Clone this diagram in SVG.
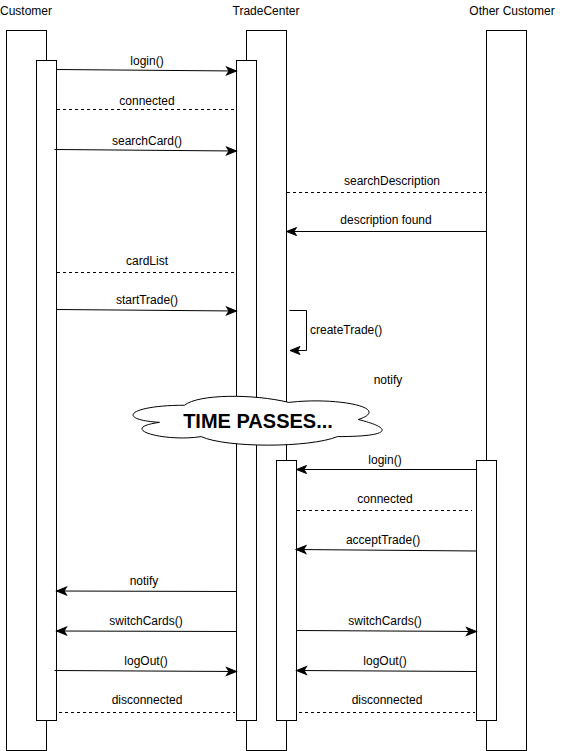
<svg xmlns="http://www.w3.org/2000/svg" width="567" height="751" viewBox="0 0 567 751">
<defs>
<style>
.box{fill:#fff;stroke:#000;stroke-width:1}
.msg{fill:none;stroke:#000;stroke-width:1}
.arr{marker-end:url(#ah)}
.dash{stroke-dasharray:3 3}
text{font-family:"Liberation Sans",Arial,Helvetica,sans-serif;font-size:12px;fill:#000}
.c{text-anchor:middle}
.big{font-size:20px;font-weight:bold}
</style>
<marker id="ah" markerUnits="userSpaceOnUse" markerWidth="10" markerHeight="8" refX="10" refY="4" orient="auto" overflow="visible">
<path d="M0,0 L10,4 L0,8 L2.5,4 Z" fill="#000" stroke="#000" stroke-width="1"/>
</marker>
</defs>
<rect width="567" height="751" fill="#fff"/>
<g id="customer">
<text class="c" x="26" y="15">Customer</text>
<rect class="box" x="6.5" y="30.5" width="40" height="720"/>
<rect class="box" x="36.5" y="60.5" width="20" height="660"/>
</g>
<g id="tradecenter">
<text class="c" x="266" y="15">TradeCenter</text>
<rect class="box" x="246.5" y="30.5" width="40" height="720"/>
<rect class="box" x="236.5" y="60.5" width="20" height="660"/>
</g>
<g id="othercustomer">
<text class="c" x="512" y="15">Other Customer</text>
<rect class="box" x="486.5" y="30.5" width="40" height="720"/>
<rect class="box" x="476.5" y="460.5" width="20" height="260"/>
</g>
<g id="timepasses">
<path class="box" d="M184.5,405.25 C128.9,405.25 115,419.5 159.48,422.35 C115,428.62 165.04,442.3 201.18,436.6 C226.2,448 309.6,448 337.4,436.6 C393,436.6 393,428.05 358.25,419.5 C393,408.1 337.4,396.7 288.75,402.4 C254,393.85 198.4,393.85 184.5,405.25 Z"/>
<text class="c big" x="258" y="428">TIME PASSES...</text>
</g>
<g id="tradecenter-activation2">
<rect class="box" x="276.5" y="460.5" width="20" height="260"/>
</g>
<g id="connectors">
<line class="msg arr" x1="56.5" y1="69.5" x2="236.5" y2="71"/>
<line class="msg dash" x1="57" y1="109.5" x2="235" y2="109.5"/>
<line class="msg arr" x1="54.5" y1="149.5" x2="236.5" y2="151"/>
<line class="msg dash" x1="287" y1="192.5" x2="486" y2="192.5"/>
<line class="msg arr" x1="486.5" y1="231.5" x2="286.5" y2="231.5"/>
<line class="msg dash" x1="57" y1="272.5" x2="235" y2="272.5"/>
<line class="msg arr" x1="56.5" y1="309.5" x2="236.5" y2="311"/>
<path class="msg arr" d="M289.5,310.5 H306.5 V350.5 H290"/>
<line class="msg arr" x1="476.5" y1="469.5" x2="296.5" y2="469.5"/>
<line class="msg dash" x1="297" y1="510.5" x2="472" y2="510.5"/>
<line class="msg arr" x1="476.5" y1="551" x2="296" y2="549.5"/>
<line class="msg arr" x1="236.5" y1="591.5" x2="56.5" y2="591"/>
<line class="msg arr" x1="236.5" y1="631.5" x2="56.5" y2="631"/>
<line class="msg arr" x1="296.5" y1="630.5" x2="476.5" y2="631.5"/>
<line class="msg arr" x1="54.5" y1="670.5" x2="236.5" y2="671.5"/>
<line class="msg arr" x1="476.5" y1="671.5" x2="296.5" y2="670.5"/>
<line class="msg dash" x1="59" y1="712.5" x2="235" y2="712.5"/>
<line class="msg dash" x1="299" y1="712.5" x2="475" y2="712.5"/>
</g>
<g id="labels">
<text class="c" x="147" y="65">login()</text>
<text class="c" x="147" y="105">connected</text>
<text class="c" x="147" y="145">searchCard()</text>
<text class="c" x="392" y="185">searchDescription</text>
<text class="c" x="386" y="224">description found</text>
<text class="c" x="147" y="265">cardList</text>
<text class="c" x="147" y="304">startTrade()</text>
<text x="310" y="334">createTrade()</text>
<text class="c" x="388" y="384">notify</text>
<text class="c" x="385" y="464">login()</text>
<text class="c" x="385" y="503">connected</text>
<text class="c" x="383" y="544">acceptTrade()</text>
<text class="c" x="144" y="585">notify</text>
<text class="c" x="146" y="625">switchCards()</text>
<text class="c" x="385" y="625">switchCards()</text>
<text class="c" x="146" y="665">logOut()</text>
<text class="c" x="385" y="665">logOut()</text>
<text class="c" x="147" y="704">disconnected</text>
<text class="c" x="387" y="704">disconnected</text>
</g>
</svg>
